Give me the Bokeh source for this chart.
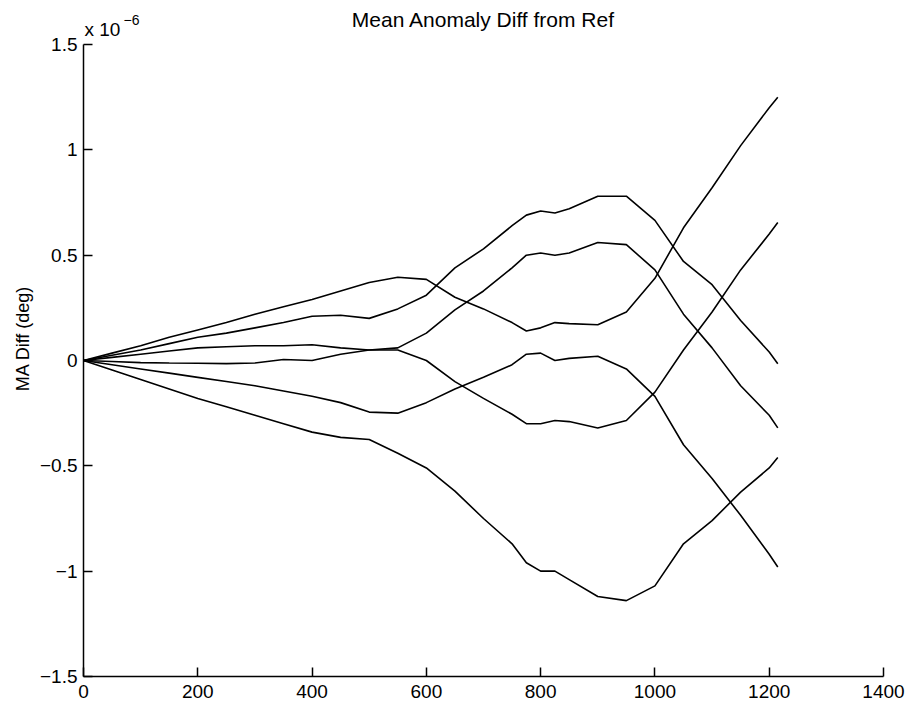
from bokeh.plotting import figure
from bokeh.models import Range1d, Label, FixedTicker
from bokeh.embed import file_html
from bokeh.resources import INLINE

# Time axis (x) and the six mean-anomaly difference series, in units of 1e-6 deg
x_vals = [0, 50, 100, 150, 200, 250, 300, 350, 400, 450, 500, 550, 600, 650, 700,
          750, 775, 800, 825, 850, 900, 950, 1000, 1050, 1100, 1150, 1200, 1215]

series_a = [0, 0.035, 0.07, 0.11, 0.145, 0.18, 0.22, 0.255, 0.29, 0.33, 0.37, 0.395, 0.385, 0.30,
            0.245, 0.18, 0.14, 0.155, 0.18, 0.175, 0.17, 0.23, 0.39, 0.63, 0.82, 1.02, 1.2, 1.25]
series_b = [0, 0.025, 0.05, 0.08, 0.11, 0.13, 0.155, 0.18, 0.21, 0.215, 0.20, 0.245, 0.31, 0.44,
            0.53, 0.64, 0.69, 0.71, 0.70, 0.72, 0.78, 0.78, 0.665, 0.47, 0.36, 0.19, 0.04, -0.015]
series_c = [0, 0.015, 0.03, 0.045, 0.06, 0.065, 0.07, 0.07, 0.075, 0.06, 0.05, 0.06, 0.13, 0.24,
            0.33, 0.44, 0.50, 0.51, 0.50, 0.51, 0.56, 0.55, 0.43, 0.22, 0.06, -0.12, -0.26, -0.32]
series_d = [0, -0.005, -0.01, -0.012, -0.013, -0.015, -0.012, 0.005, 0.0, 0.03, 0.05, 0.05, 0.0, -0.10,
            -0.18, -0.255, -0.30, -0.30, -0.285, -0.29, -0.32, -0.285, -0.15, 0.05, 0.23, 0.43, 0.60, 0.655]
series_e = [0, -0.02, -0.04, -0.06, -0.08, -0.10, -0.12, -0.145, -0.17, -0.20, -0.245, -0.25, -0.20, -0.135,
            -0.08, -0.02, 0.03, 0.035, 0.0, 0.01, 0.02, -0.04, -0.17, -0.40, -0.56, -0.735, -0.92, -0.98]
series_f = [0, -0.045, -0.09, -0.135, -0.18, -0.22, -0.26, -0.30, -0.34, -0.365, -0.375, -0.44, -0.51, -0.62,
            -0.75, -0.87, -0.96, -1.0, -1.0, -1.04, -1.12, -1.14, -1.07, -0.87, -0.76, -0.625, -0.51, -0.46]

x_ticks = [0, 200, 400, 600, 800, 1000, 1200, 1400]
y_ticks = [-1.5, -1, -0.5, 0, 0.5, 1, 1.5]
y_tick_labels = ["\u22121.5", "\u22121", "\u22120.5", "0", "0.5", "1", "1.5"]

title_text = "Mean Anomaly Diff from Ref"
y_label_text = "MA Diff (deg)"

FONT = "Liberation Sans"

# Frame spans the whole height above the x axis; axis line limited to [-1.5, 1.5]
H = 706
BOTTOM = 30
PX_PER_UNIT = (676 - 44) / 3.0
y_top = -1.5 + (H - BOTTOM) / PX_PER_UNIT

p = figure(width=912, height=H, output_backend="svg", toolbar_location=None,
           x_range=Range1d(0, 1400), y_range=Range1d(-1.5, y_top),
           min_border_left=83, min_border_right=29, min_border_top=0, min_border_bottom=BOTTOM)

p.background_fill_color = "white"
p.border_fill_color = "white"
p.outline_line_color = None
p.grid.visible = False

for ax in (p.xaxis[0], p.yaxis[0]):
    ax.axis_line_color = "black"
    ax.axis_line_width = 1.5
    ax.major_tick_line_color = "black"
    ax.major_tick_line_width = 1.5
    ax.major_tick_in = 9
    ax.major_tick_out = 0
    ax.minor_tick_line_color = None
    ax.major_label_text_font = FONT
    ax.major_label_text_font_size = "19px"
    ax.major_label_text_color = "black"

p.xaxis[0].ticker = FixedTicker(ticks=x_ticks)
p.xaxis[0].major_label_standoff = 8
p.yaxis[0].ticker = FixedTicker(ticks=y_ticks)
p.yaxis[0].bounds = (-1.5, 1.5)
p.yaxis[0].major_label_overrides = {t: l for t, l in zip(y_ticks, y_tick_labels)}
p.yaxis[0].major_label_standoff = 6
p.yaxis[0].axis_label = y_label_text
p.yaxis[0].axis_label_text_font = FONT
p.yaxis[0].axis_label_text_font_size = "18px"
p.yaxis[0].axis_label_text_font_style = "normal"
p.yaxis[0].axis_label_text_color = "black"
p.yaxis[0].axis_label_standoff = 4

for s in (series_a, series_b, series_c, series_d, series_e, series_f):
    p.line(x_vals, s, line_color="black", line_width=1.6)

p.add_layout(Label(x=700, y=1.5, y_offset=25, text=title_text, text_align="center",
                   text_font=FONT, text_font_size="21px", text_color="black",
                   text_baseline="alphabetic"))
p.add_layout(Label(x=0, y=1.5, x_offset=1, y_offset=15, text="x 10",
                   text_font=FONT, text_font_size="19px", text_color="black",
                   text_baseline="alphabetic"))
p.add_layout(Label(x=0, y=1.5, x_offset=40, y_offset=25, text="\u22126",
                   text_font=FONT, text_font_size="14px", text_color="black",
                   text_baseline="alphabetic"))

open("out.html", "w").write(file_html(p, INLINE))
